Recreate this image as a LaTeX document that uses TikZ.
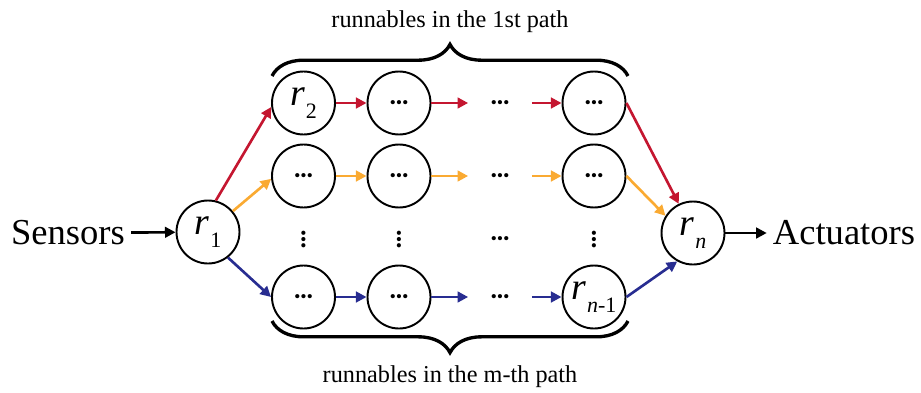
\documentclass[tikz,border=0pt]{standalone}
\usepackage{fontspec}
\setmainfont{Liberation Serif}
\newfontfamily\calfont{Carlito}
\usepackage{tikz}
\usetikzlibrary{arrows.meta,decorations.pathreplacing}

\definecolor{pathred}{RGB}{196,22,48}
\definecolor{pathorange}{RGB}{250,170,50}
\definecolor{pathblue}{RGB}{40,45,145}

\newcommand{\rlab}[1]{{\fontsize{21.5}{21}\selectfont\itshape r}\kern0.5pt\raisebox{-7.5pt}{\fontsize{12.5}{12}\selectfont #1}}
\newcommand{\hdotsl}{{\calfont\bfseries\fontsize{16}{16}\selectfont \char"2026}}
\newcommand{\vdotsl}{\rotatebox{90}{\hdotsl}}

\begin{document}
\begin{tikzpicture}[
    runnable/.style={draw, circle, line width=1.1pt, inner sep=0pt, minimum size=1.26cm},
    gap/.style={circle, inner sep=0pt, minimum size=1.26cm},
    link/.style={line width=1.5pt, -{Triangle[length=6pt,width=6pt]}},
    bracket/.style={decorate, decoration={brace, amplitude=18pt}, line width=1.9pt},
    big/.style={font=\fontsize{20.8}{22}\selectfont},
    small/.style={font=\fontsize{13.8}{15}\selectfont}]
    \useasboundingbox (0,0) rectangle (18.42,7.84);
    % ends
    \node[big] (sens) at (1.36,3.18) {Sensors};
    \node[runnable] (r1) at (4.16,3.20) {\rlab{1}};
    \node[runnable] (rn) at (13.86,3.18) {\rlab{\textit{n}}};
    \node[big] (act) at (16.88,3.18) {Actuators};
    % 1st path
    \node[runnable] (n11) at (6.07,5.78) {\rlab{2}};
    \node[runnable] (n12) at (7.98,5.78) {\hdotsl};
    \node[gap] (n13) at (10.00,5.78) {\hdotsl};
    \node[runnable] (n14) at (11.88,5.78) {\hdotsl};
    % 2nd path
    \node[runnable] (n21) at (6.07,4.32) {\hdotsl};
    \node[runnable] (n22) at (7.98,4.32) {\hdotsl};
    \node[gap] (n23) at (10.00,4.32) {\hdotsl};
    \node[runnable] (n24) at (11.88,4.32) {\hdotsl};
    % skipped paths
    \node (v1) at (6.07,3.06) {\vdotsl};
    \node (v2) at (7.98,3.06) {\vdotsl};
    \node (h3) at (10.00,3.06) {\hdotsl};
    \node (v4) at (11.88,3.06) {\vdotsl};
    % m-th path
    \node[runnable] (n41) at (6.07,1.90) {\hdotsl};
    \node[runnable] (n42) at (7.98,1.90) {\hdotsl};
    \node[gap] (n43) at (10.00,1.90) {\hdotsl};
    \node[runnable] (n44) at (11.88,1.90) {\rlab{\textit{n}-1}};

    \draw[link] (sens) -- (r1);
    \draw[link] (rn) -- (act);
    \draw[link, pathred] (r1.76) -- (n11.187);
    \draw[link, pathorange] (r1.40) -- (n21.185);
    \draw[link, pathblue] (r1.308) -- (n41.west);
    \draw[link, pathred] (n11) -- (n12);
    \draw[link, pathred] (n12) -- (n13);
    \draw[link, pathred] (n13) -- (n14);
    \draw[link, pathorange] (n21) -- (n22);
    \draw[link, pathorange] (n22) -- (n23);
    \draw[link, pathorange] (n23) -- (n24);
    \draw[link, pathblue] (n41) -- (n42);
    \draw[link, pathblue] (n42) -- (n43);
    \draw[link, pathblue] (n43) -- (n44);
    \draw[link, pathred] (n14.east) -- (rn.116);
    \draw[link, pathorange] (n24.east) -- (rn.148);
    \draw[link, pathblue] (n44.east) -- (rn.241);

    % braces
    \coordinate (tl) at (5.44,6.32);
    \coordinate (tr) at (12.56,6.32);
    \coordinate (bl) at (5.44,1.42);
    \coordinate (br) at (12.56,1.42);
    \draw[bracket] (tl) -- (tr);
    \draw[bracket] (br) -- (bl);
    \node[small] (top) at (9.0,7.40) {runnables in the 1st path};
    \node[small] (bot) at (9.0,0.30) {runnables in the m-th path};
\end{tikzpicture}
\end{document}
